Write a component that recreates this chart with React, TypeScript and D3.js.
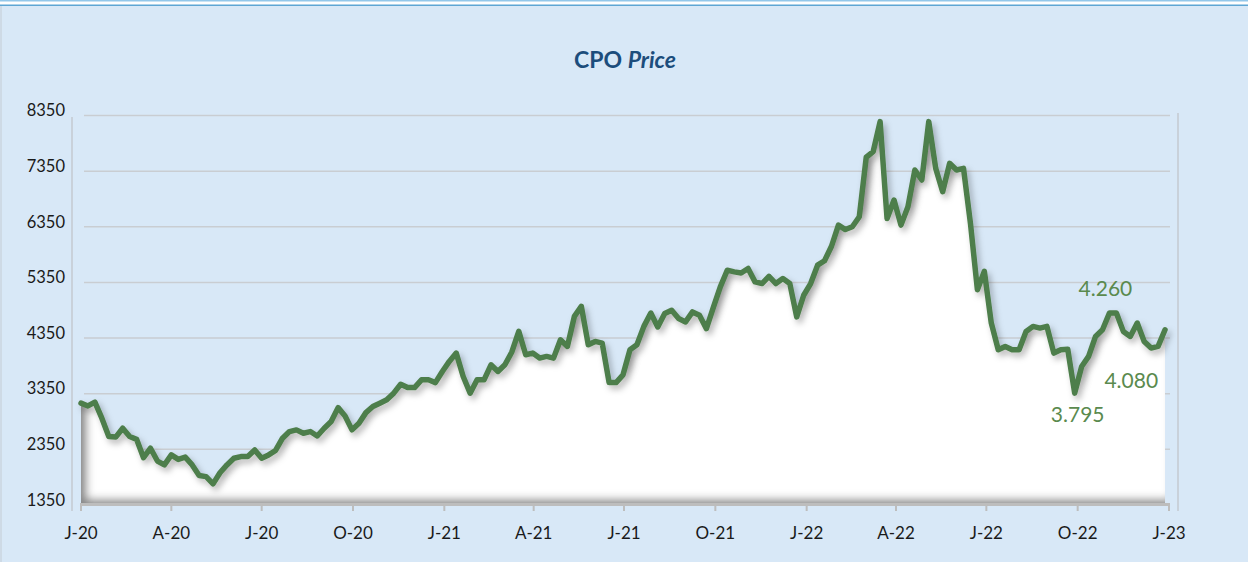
import { useEffect, useRef } from "react";
import * as d3 from "d3";

// weekly CPO price readings, Jan 2020 -> Dec 2022
const startDate = "2020-01-01";
const prices = [
  3180, 3130, 3200, 2910, 2580, 2570, 2730, 2580, 2530, 2200, 2370, 2140, 2070, 2250, 2170, 2210,
  2070, 1880, 1860, 1730, 1930, 2070, 2190, 2220, 2220, 2340, 2190, 2250, 2330, 2550, 2670, 2700,
  2640, 2670, 2590, 2730, 2850, 3100, 2950, 2700, 2820, 3010, 3120, 3180, 3240, 3360, 3520, 3460,
  3460, 3600, 3600, 3550, 3750, 3930, 4080, 3660, 3360, 3600, 3600, 3870, 3750, 3870, 4100, 4470,
  4050, 4080, 3990, 4020, 3990, 4320, 4200, 4740, 4920, 4230, 4290, 4260, 3550, 3550, 3690, 4140,
  4230, 4560, 4800, 4550, 4790, 4850, 4700, 4640, 4820, 4760, 4520, 4900, 5270, 5570, 5540, 5520,
  5600, 5360, 5330, 5460, 5330, 5420, 5330, 4730, 5120, 5330, 5660, 5740, 6000, 6380, 6300, 6350,
  6530, 7600, 7700, 8240, 6500, 6830, 6380, 6710, 7370, 7190, 8240, 7400, 6980, 7490, 7370, 7400,
  6410, 5220, 5550, 4620, 4140, 4200, 4140, 4140, 4470, 4560, 4530, 4560, 4080, 4140, 4150, 3360,
  3840, 4020, 4380, 4500, 4800, 4800, 4470, 4380, 4620, 4290, 4170, 4200, 4500,
];

const yTicks = [1350, 2350, 3350, 4350, 5350, 6350, 7350, 8350];
const xTickLabels = ["J-20", "A-20", "J-20", "O-20", "J-21", "A-21", "J-21", "O-21", "J-22", "A-22", "J-22", "O-22", "J-23"];

// callouts: label, date, price the label sits at
const callouts = [
  { label: "4.260", date: "2022-10-29", value: 5100 },
  { label: "3.795", date: "2022-10-01", value: 2850 },
  { label: "4.080", date: "2022-11-24", value: 3460 },
];

const W = 1248;
const H = 562;
const font = "Lato, 'Open Sans', sans-serif";

function CpoChart() {
  const ref = useRef<SVGSVGElement>(null);

  useEffect(() => {
    if (!ref.current) return;
    const svg = d3.select(ref.current);
    svg.selectAll("*").remove();

    const parse = d3.utcParse("%Y-%m-%d");
    const t0 = parse(startDate)!;
    const data = prices.map((v, i) => ({ date: d3.utcDay.offset(t0, i * 7), value: v }));

    const x = d3
      .scaleUtc()
      .domain([parse("2020-01-01")!, parse("2023-01-01")!])
      .range([81, 1169]);
    const y = d3.scaleLinear().domain([1350, 8350]).range([505, 115.5]);

    // background + frame
    svg.append("rect").attr("width", W).attr("height", H).attr("fill", "#d8e8f7");
    svg.append("rect").attr("width", W).attr("height", 6).attr("fill", "#ffffff");
    svg.append("line").attr("x1", 0).attr("x2", W).attr("y1", 0.8).attr("y2", 0.8)
      .attr("stroke", "#93c7ea").attr("stroke-width", 1.6);
    svg.append("line").attr("x1", 0).attr("x2", W).attr("y1", 5.2).attr("y2", 5.2)
      .attr("stroke", "#5ea6d4").attr("stroke-width", 1.6);
    svg.append("line").attr("x1", 1).attr("x2", 1).attr("y1", 6).attr("y2", H)
      .attr("stroke", "#c4ccd4").attr("stroke-width", 1);

    const defs = svg.append("defs");
    const inner = defs.append("filter").attr("id", "innerShadow")
      .attr("x", "-5%").attr("y", "-10%").attr("width", "110%").attr("height", "120%");
    inner.append("feComponentTransfer").attr("in", "SourceAlpha").attr("result", "inv")
      .append("feFuncA").attr("type", "table").attr("tableValues", "1 0");
    inner.append("feOffset").attr("in", "inv").attr("dx", 6).attr("dy", -5).attr("result", "off");
    inner.append("feGaussianBlur").attr("in", "off").attr("stdDeviation", 4.5).attr("result", "blur");
    inner.append("feFlood").attr("flood-color", "#5f5f5f").attr("flood-opacity", 0.85).attr("result", "col");
    inner.append("feComposite").attr("in", "col").attr("in2", "blur").attr("operator", "in").attr("result", "sh");
    inner.append("feComposite").attr("in", "sh").attr("in2", "SourceAlpha").attr("operator", "in").attr("result", "shIn");
    const m = inner.append("feMerge");
    m.append("feMergeNode").attr("in", "SourceGraphic");
    m.append("feMergeNode").attr("in", "shIn");

    const drop = defs.append("filter").attr("id", "lineShadow")
      .attr("x", "-5%").attr("y", "-10%").attr("width", "110%").attr("height", "120%");
    drop.append("feDropShadow").attr("dx", 3).attr("dy", 4).attr("stdDeviation", 3)
      .attr("flood-color", "#000").attr("flood-opacity", 0.28);

    // title
    const title = svg.append("text").attr("x", 625).attr("y", 68).attr("text-anchor", "middle")
      .style("font-family", font).style("font-size", "23px").style("font-weight", "700")
      .attr("fill", "#1c4d7c");
    title.append("tspan").text("CPO ");
    title.append("tspan").style("font-style", "italic").text("Price");

    // gridlines
    svg.append("g").selectAll("line").data(yTicks.filter((d) => d > 1350)).enter().append("line")
      .attr("x1", 84).attr("x2", 1170)
      .attr("y1", (d) => y(d)).attr("y2", (d) => y(d))
      .attr("stroke", "#c9cdd2").attr("stroke-width", 1.5);

    // y axis line + labels
    svg.append("line").attr("x1", 72).attr("x2", 72).attr("y1", 117).attr("y2", 511)
      .attr("stroke", "#c5cad0").attr("stroke-width", 1.5);
    svg.append("line").attr("x1", 1178).attr("x2", 1178).attr("y1", 113).attr("y2", 511)
      .attr("stroke", "#c5cad0").attr("stroke-width", 1.5);
    svg.append("g").selectAll("text").data(yTicks).enter().append("text")
      .attr("x", 65).attr("y", (d) => y(d) - 5).attr("dy", "0.35em").attr("text-anchor", "end")
      .style("font-family", font).style("font-size", "16.5px").attr("fill", "#1a1a1a")
      .text((d) => String(d));

    // area + line
    const area = d3.area<{ date: Date; value: number }>()
      .x((d) => x(d.date)).y0(504).y1((d) => y(d.value));
    const line = d3.line<{ date: Date; value: number }>()
      .x((d) => x(d.date)).y((d) => y(d.value));

    svg.append("path").datum(data).attr("d", area).attr("fill", "#ffffff")
      .attr("filter", "url(#innerShadow)");
    svg.append("path").datum(data).attr("d", line).attr("fill", "none")
      .attr("stroke", "#4e7e4b").attr("stroke-width", 5.5).attr("stroke-linejoin", "round")
      .attr("stroke-linecap", "round").attr("filter", "url(#lineShadow)");

    // x axis
    const ticks = d3.utcMonth.every(3)!.range(x.domain()[0], d3.utcDay.offset(x.domain()[1], 1));
    svg.append("line").attr("x1", 80).attr("x2", 1170).attr("y1", 504.5).attr("y2", 504.5)
      .attr("stroke", "#bdbdbd").attr("stroke-width", 3);
    const xt = svg.append("g").selectAll("g").data(ticks).enter().append("g")
      .attr("transform", (d) => `translate(${x(d)},0)`);
    xt.append("line").attr("y1", 504).attr("y2", 511).attr("stroke", "#bdbdbd").attr("stroke-width", 2);
    xt.append("text").attr("y", 539).attr("text-anchor", "middle")
      .style("font-family", font).style("font-size", "17px").attr("fill", "#1a1a1a")
      .text((_d, i) => xTickLabels[i]);

    // callouts
    svg.append("g").selectAll("text").data(callouts).enter().append("text")
      .attr("x", (d) => x(parse(d.date)!)).attr("y", (d) => y(d.value))
      .attr("text-anchor", "middle")
      .style("font-family", font).style("font-size", "21px").attr("fill", "#5a8a4e")
      .text((d) => d.label);
  }, []);

  return (
    <svg ref={ref} width={W} height={H}
      style={{ position: "absolute", left: 0, top: 0, display: "block" }} />
  );
}

export default function App() {
  return <CpoChart />;
}
